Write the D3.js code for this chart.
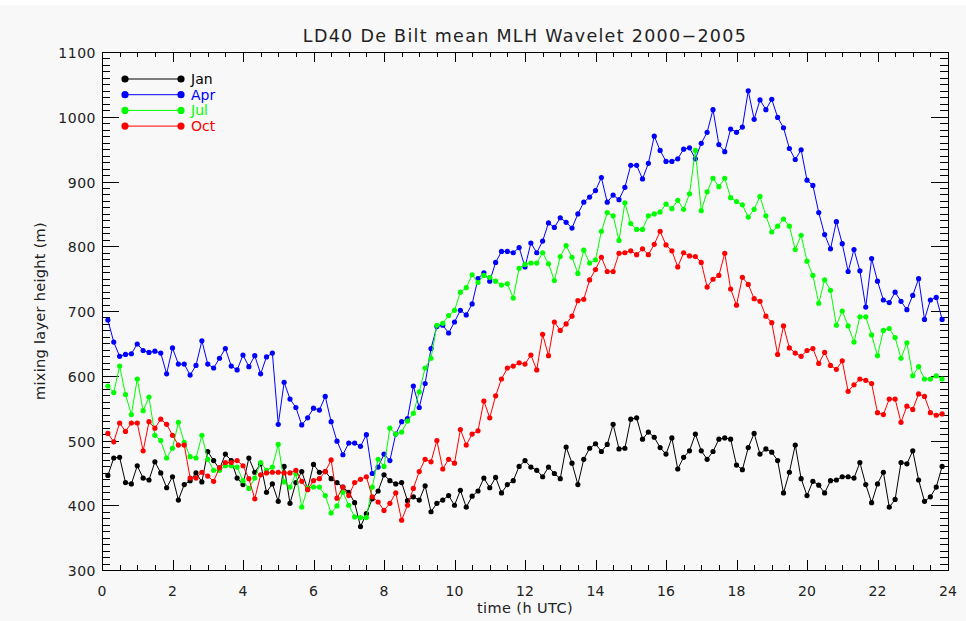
<!DOCTYPE html>
<html>
<head>
<meta charset="utf-8">
<script src="https://cdn.jsdelivr.net/npm/d3@7"></script>
<style>
  html, body { margin: 0; padding: 0; background: #f8f8f8; }
  svg { display: block; }
  text { font-family: "DejaVu Sans", sans-serif; fill: #222; }
</style>
</head>
<body>
<svg id="chart" width="966" height="621"></svg>
<script>
// Mean mixing layer height (m), 10-minute means, one value per step from 00:10 to 23:50 UTC
const stepMinutes = 10;
const jan = [446,473,474,435,433,461,442,439,467,450,427,444,408,432,438,450,436,483,469,456,479,469,442,432,473,451,464,420,433,406,460,403,435,452,425,463,451,452,441,435,428,420,404,367,387,410,422,447,438,433,435,407,413,408,430,390,403,408,415,400,423,397,414,422,442,427,443,419,432,438,460,469,459,454,444,459,449,441,490,465,432,471,488,495,483,494,525,487,488,533,535,502,513,505,489,479,504,456,474,484,510,484,471,483,502,504,502,462,455,489,511,479,487,482,469,419,451,493,441,415,437,431,419,438,439,444,444,442,466,432,404,433,451,397,409,466,464,484,439,406,413,428,460];
const apr = [686,652,630,633,634,649,639,636,638,635,603,643,618,618,601,616,654,618,612,627,642,615,609,632,614,631,603,629,635,525,590,564,551,524,535,550,547,568,529,499,478,496,496,491,509,449,459,479,469,510,529,534,584,551,588,642,676,678,666,683,701,694,711,750,759,746,775,792,792,790,798,768,805,790,808,836,829,844,837,828,850,868,876,886,906,868,879,872,891,925,925,904,928,970,948,931,931,935,950,952,935,959,976,1011,957,946,981,976,984,1040,996,1026,1011,1027,999,983,951,934,949,902,894,852,818,796,838,804,761,795,762,706,781,746,717,713,729,715,702,724,750,687,717,721,687];
const jul = [584,574,615,571,540,595,546,567,508,500,473,488,528,497,475,473,508,471,454,454,461,461,459,438,426,442,466,454,459,494,436,428,449,397,427,428,428,415,388,399,420,400,382,381,381,428,471,460,519,510,513,530,542,575,612,627,678,681,693,701,729,736,756,744,755,752,746,740,742,720,766,772,774,774,790,773,747,784,801,783,758,794,774,779,823,852,847,809,867,835,826,826,847,850,853,865,858,871,857,881,948,855,884,905,892,905,875,869,864,845,857,877,847,822,831,842,831,795,817,777,755,712,748,732,678,700,677,652,691,691,663,631,670,673,659,627,651,600,614,595,595,600,595];
const oct = [511,498,527,514,527,527,484,529,519,533,525,508,493,493,442,442,451,445,437,458,466,466,469,461,441,410,447,450,451,451,450,450,454,437,424,438,441,452,470,411,428,415,435,440,444,413,405,392,403,419,377,400,426,452,471,467,500,456,471,465,517,493,510,515,561,535,569,595,612,615,620,618,632,609,664,631,683,670,680,692,716,718,748,764,783,761,761,789,790,793,787,796,787,803,823,802,793,768,790,785,784,775,737,749,755,789,734,709,752,741,719,715,692,682,633,677,643,635,630,639,642,619,636,616,610,623,576,586,595,593,588,543,540,564,564,528,553,548,572,568,543,539,541];

const seriesNames = ["Jan", "Apr", "Jul", "Oct"];
const seriesColors = ["#000000", "#0000ff", "#00ff00", "#ff0000"];
const seriesValues = [jan, apr, jul, oct];

const xTicks = [0, 2, 4, 6, 8, 10, 12, 14, 16, 18, 20, 22, 24];
const yTicks = [300, 400, 500, 600, 700, 800, 900, 1000, 1100];

const titleText = "LD40 De Bilt mean MLH Wavelet 2000\u22122005";
const xTitle = "time (h UTC)";
const yTitle = "mixing layer height (m)";

(function () {
  // ---- layout ----
  const pLeft = 102, pRight = 948, pTop = 52, pBottom = 570;
  const svg = d3.select("#chart");

  // thin white strip along the top edge of the page
  svg.append("rect").attr("x", 0).attr("y", 0).attr("width", 966).attr("height", 5).attr("fill", "#ffffff");

  const x = d3.scaleLinear().domain([0, 24]).range([pLeft, pRight]);
  const y = d3.scaleLinear().domain([300, 1100]).range([pBottom, pTop]);

  const minorX = d3.range(0, 24.001, 0.5);
  const minorY = d3.range(300, 1100.001, 10);

  const tickLayer = svg.append("g").attr("stroke", "#000").attr("stroke-width", 1).attr("shape-rendering", "crispEdges");

  function xTickLines(values, len) {
    values.forEach(v => {
      const px = Math.round(x(v)) + 0.5;
      tickLayer.append("line").attr("x1", px).attr("x2", px).attr("y1", pBottom).attr("y2", pBottom - len);
      tickLayer.append("line").attr("x1", px).attr("x2", px).attr("y1", pTop).attr("y2", pTop + len);
    });
  }
  function yTickLines(values, len) {
    values.forEach(v => {
      const py = Math.round(y(v)) + 0.5;
      tickLayer.append("line").attr("y1", py).attr("y2", py).attr("x1", pLeft).attr("x2", pLeft + len);
      tickLayer.append("line").attr("y1", py).attr("y2", py).attr("x1", pRight).attr("x2", pRight - len);
    });
  }
  xTickLines(minorX, 5);
  xTickLines(xTicks, 10);
  yTickLines(minorY, 8);
  yTickLines(yTicks, 17);

  // plot frame
  svg.append("rect")
    .attr("x", pLeft + 0.5).attr("y", pTop + 0.5)
    .attr("width", pRight - pLeft).attr("height", pBottom - pTop)
    .attr("fill", "none").attr("stroke", "#000").attr("shape-rendering", "crispEdges");

  // tick labels
  svg.append("g").selectAll("text").data(xTicks).join("text")
    .attr("x", d => x(d)).attr("y", pBottom + 26)
    .attr("text-anchor", "middle").attr("font-size", 14).text(d => d);
  svg.append("g").selectAll("text").data(yTicks).join("text")
    .attr("x", pLeft - 6).attr("y", d => y(d) + 6)
    .attr("text-anchor", "end").attr("font-size", 14).attr("letter-spacing", 0.5).text(d => d);

  // titles
  svg.append("text").attr("x", (pLeft + pRight) / 2).attr("y", 42)
    .attr("text-anchor", "middle").attr("font-size", 17.5).attr("letter-spacing", 1.3).text(titleText);
  svg.append("text").attr("x", (pLeft + pRight) / 2).attr("y", 613)
    .attr("text-anchor", "middle").attr("font-size", 14.5).attr("letter-spacing", 0.4).text(xTitle);
  svg.append("text").attr("transform", `translate(45,${(pTop + pBottom) / 2}) rotate(-90)`)
    .attr("text-anchor", "middle").attr("font-size", 14.5).attr("letter-spacing", 0.3).text(yTitle);

  // data
  const hourAt = i => (i + 1) * stepMinutes / 60;
  const plot = svg.append("g");
  const line = d3.line().x((d, i) => x(hourAt(i))).y(d => y(d));
  seriesValues.forEach((vals, k) => {
    const g = plot.append("g");
    g.append("path").datum(vals).attr("d", line)
      .attr("fill", "none").attr("stroke", seriesColors[k]).attr("stroke-width", 1);
    g.selectAll("circle").data(vals).join("circle")
      .attr("cx", (d, i) => x(hourAt(i))).attr("cy", d => y(d))
      .attr("r", 2.6).attr("fill", seriesColors[k]);
  });

  // legend
  const legend = svg.append("g");
  seriesNames.forEach((name, k) => {
    const ly = 79 + k * 15.7;
    legend.append("line").attr("x1", 125).attr("x2", 181).attr("y1", ly).attr("y2", ly)
      .attr("stroke", seriesColors[k]).attr("stroke-width", 1);
    legend.append("circle").attr("cx", 125).attr("cy", ly).attr("r", 3.6).attr("fill", seriesColors[k]);
    legend.append("circle").attr("cx", 181).attr("cy", ly).attr("r", 3.6).attr("fill", seriesColors[k]);
    legend.append("text").attr("x", 191).attr("y", ly + 5).attr("font-size", 14)
      .style("fill", seriesColors[k]).text(name);
  });
})();
</script>
</body>
</html>
